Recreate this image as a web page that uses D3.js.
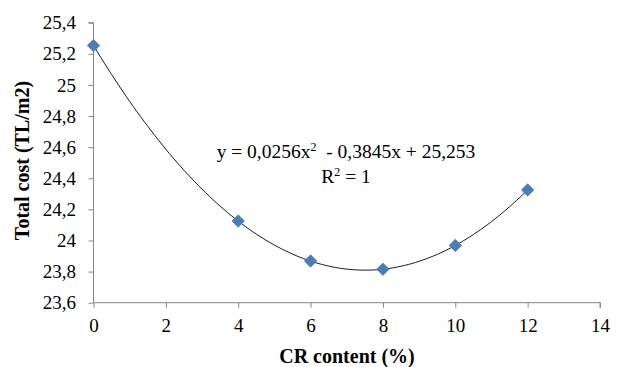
<!DOCTYPE html>
<html>
<head>
<meta charset="utf-8">
<script src="https://cdn.jsdelivr.net/npm/d3@7"></script>
<style>
  html, body { margin: 0; padding: 0; background: #fff; }
  svg { display: block; }
</style>
</head>
<body>
<svg id="chart" width="617" height="367"></svg>
<script>
// Measured values
const crContent = [0, 4, 6, 8, 10, 12];
const totalCost = [25.253, 24.125, 23.868, 23.815, 23.968, 24.325];

// Quadratic trendline coefficients (y = a x^2 + b x + c)
const trendCoef = [0.0256, -0.3845, 25.253];

// Axis ticks
const xTicks = [0, 2, 4, 6, 8, 10, 12, 14];
const yTicks = [23.6, 23.8, 24, 24.2, 24.4, 24.6, 24.8, 25, 25.2, 25.4];

const FONT = '"Liberation Serif"';
const svg = d3.select("#chart");
const plotLeft = 93.5, plotRight = 600, plotTop = 22.7, plotBottom = 302.7;

const x = d3.scaleLinear().domain([0, 14]).range([plotLeft, plotRight]);
const y = d3.scaleLinear().domain([23.6, 25.4]).range([plotBottom, plotTop]);

const fmt = d => String(d).replace(".", ",");
const axisColor = "#868686";

// Y axis
const yAxis = svg.append("g")
  .attr("transform", `translate(${plotLeft},0)`)
  .call(d3.axisLeft(y).tickValues(yTicks).tickSize(5).tickPadding(12.5).tickFormat(fmt));
yAxis.select(".domain").attr("stroke", axisColor).attr("d", `M-5,${plotTop}H0V${plotBottom}`);
yAxis.selectAll(".tick line").attr("stroke", axisColor);
yAxis.selectAll(".tick text").attr("font-size", 19).attr("fill", "#000").style("font-family", FONT);

// X axis
const xAxis = svg.append("g")
  .attr("transform", `translate(0,${plotBottom})`)
  .call(d3.axisBottom(x).tickValues(xTicks).tickSize(5).tickPadding(11).tickFormat(fmt));
xAxis.select(".domain").attr("stroke", axisColor).attr("d", `M${plotLeft},0H${plotRight}V5`);
xAxis.selectAll(".tick line").attr("stroke", axisColor);
xAxis.selectAll(".tick text").attr("font-size", 19).attr("fill", "#000").style("font-family", FONT);

// Trendline
const [a, b, c] = trendCoef;
const curveXs = d3.range(0, 12.0001, 0.1);
svg.append("path")
  .datum(curveXs)
  .attr("fill", "none")
  .attr("stroke", "#000")
  .attr("stroke-width", 0.9)
  .attr("d", d3.line().x(d => x(d)).y(d => y(a * d * d + b * d + c)));

// Markers
const diamond = d3.symbol().type(d3.symbolDiamond2).size(100);
svg.selectAll("path.pt")
  .data(crContent.map((v, i) => [v, totalCost[i]]))
  .join("path")
  .attr("class", "pt")
  .attr("transform", d => `translate(${x(d[0])},${y(d[1])})`)
  .attr("d", diamond)
  .attr("fill", "#4a7ebb")
  .attr("stroke", "#3f6fa8")
  .attr("stroke-width", 0.6);

// Equation labels
const eq = svg.append("text")
  .attr("x", 346).attr("y", 158)
  .attr("text-anchor", "middle")
  .attr("font-size", 19.5)
  .style("font-family", FONT)
  .style("white-space", "pre");
eq.append("tspan").text("y = 0,0256x");
eq.append("tspan").attr("font-size", 12).attr("dy", -7).text("2");
eq.append("tspan").attr("dy", 7).text("  - 0,3845x + 25,253");

const r2 = svg.append("text")
  .attr("x", 346).attr("y", 183)
  .attr("text-anchor", "middle")
  .attr("font-size", 19.5)
  .style("font-family", FONT);
r2.append("tspan").text("R");
r2.append("tspan").attr("font-size", 12).attr("dy", -7).text("2");
r2.append("tspan").attr("dy", 7).text(" = 1");

// Axis titles
svg.append("text")
  .attr("x", 347).attr("y", 363)
  .attr("text-anchor", "middle")
  .attr("font-size", 20).attr("font-weight", "bold")
  .style("font-family", FONT)
  .text("CR content (%)");

svg.append("text")
  .attr("transform", `translate(29,160.5) rotate(-90)`)
  .attr("text-anchor", "middle")
  .attr("font-size", 20).attr("font-weight", "bold")
  .style("font-family", FONT)
  .text("Total cost (TL/m2)");
</script>
</body>
</html>
